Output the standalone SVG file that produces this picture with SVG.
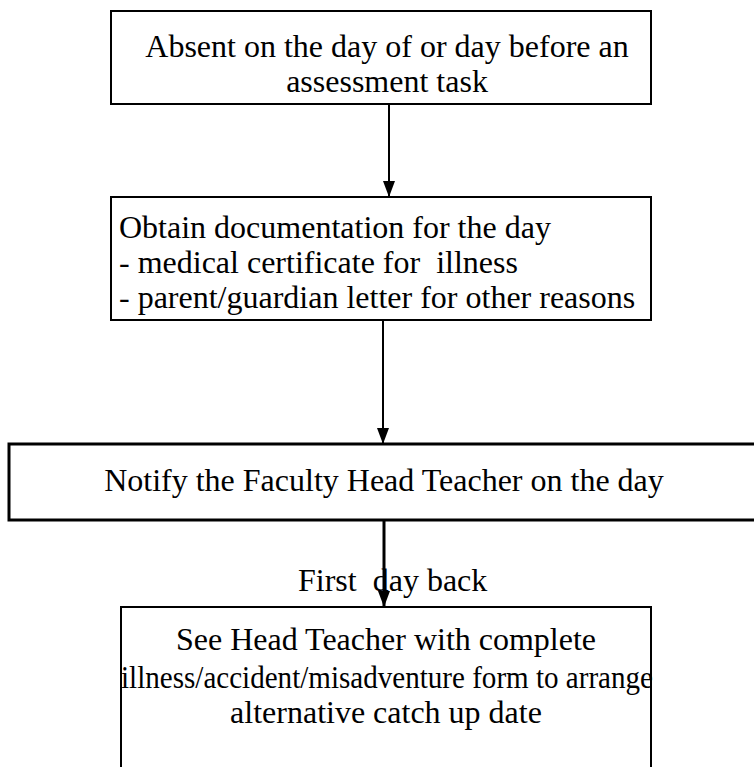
<svg xmlns="http://www.w3.org/2000/svg" width="754" height="767" viewBox="0 0 754 767">
<defs>
<marker id="ah" viewBox="0 0 16 12" refX="16" refY="6" markerWidth="16" markerHeight="12" markerUnits="userSpaceOnUse" orient="auto">
<path d="M0,0 L16,6 L0,12 Z" fill="#000"/>
</marker>
</defs>
<style>
.box{fill:#fff;stroke:#000;stroke-width:2}
.t{font-family:"Liberation Serif","Times New Roman",serif;font-size:32px;fill:#000}
.c{text-anchor:middle}
.ln{stroke:#000;stroke-width:2;fill:none}
</style>
<rect width="754" height="767" fill="#fff"/>
<g id="n1">
<rect class="box" x="111" y="11" width="540" height="93"/>
<text class="t c" x="387" y="57">Absent on the day of or day before an</text>
<text class="t c" x="387" y="92">assessment task</text>
</g>
<g id="n2">
<rect class="box" x="111" y="197" width="540" height="123"/>
<text class="t" x="119" y="238">Obtain documentation for the day</text>
<text class="t" x="119" y="273" xml:space="preserve">- medical certificate for  illness</text>
<text class="t" x="119" y="308">- parent/guardian letter for other reasons</text>
</g>
<g id="n3">
<rect class="box" x="9" y="444" width="760" height="76" style="stroke-width:3"/>
<text class="t c" x="384" y="491">Notify the Faculty Head Teacher on the day</text>
</g>
<g id="n4">
<rect class="box" x="121" y="607" width="530" height="170"/>
<text class="t c" x="386" y="650">See Head Teacher with complete</text>
<text class="t c" x="387" y="688" textLength="532" lengthAdjust="spacingAndGlyphs">illness/accident/misadventure form to arrange</text>
<text class="t c" x="386" y="723">alternative catch up date</text>
</g>
<g id="connectors">
<line class="ln" x1="389" y1="104" x2="389" y2="197" marker-end="url(#ah)"/>
<line class="ln" x1="383" y1="320" x2="383" y2="444" marker-end="url(#ah)"/>
<line class="ln" x1="384" y1="520" x2="384" y2="607" style="stroke-width:3" marker-end="url(#ah)"/>
</g>
<text class="t" x="298" y="591" xml:space="preserve">First  day back</text>
</svg>
